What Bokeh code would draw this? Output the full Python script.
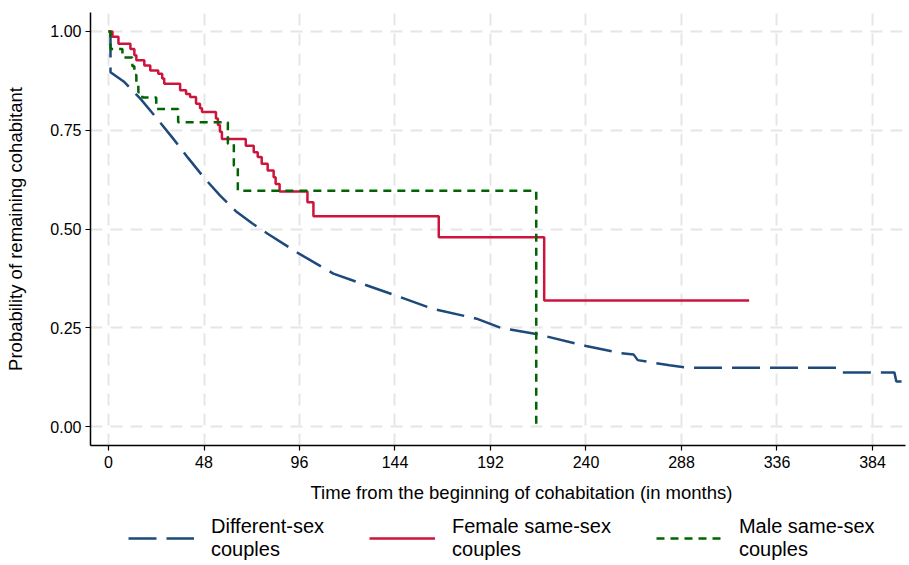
from bokeh.plotting import figure
from bokeh.layouts import column
from bokeh.models import Range1d, FixedTicker, NumeralTickFormatter, Legend, LegendItem, Title
from bokeh.embed import file_html
from bokeh.resources import INLINE

# Different-sex couples (Kaplan-Meier, many small steps -> drawn as polyline)
diff_t = [0, 1, 1, 8, 16, 24, 32, 40, 48, 56, 64, 72, 80, 96, 113, 130, 147, 163, 185,
          197, 216, 240, 257, 264, 266, 282, 291, 366, 367, 395, 396, 401]
diff_s = [1.0, 1.0, 0.897, 0.872, 0.830, 0.782, 0.732, 0.680, 0.630, 0.585, 0.545, 0.515,
          0.488, 0.437, 0.387, 0.357, 0.327, 0.298, 0.273, 0.250, 0.233, 0.204, 0.186,
          0.182, 0.168, 0.155, 0.149, 0.149, 0.137, 0.137, 0.114, 0.114]

# Female same-sex couples (step, value after time)
fem_t = [0, 2, 5, 11, 13, 14, 18, 21, 25, 27, 28, 36, 39, 41, 44, 46, 47, 54, 55, 56, 57,
         69, 73, 75, 77, 80, 83, 84, 86, 100, 103, 166, 219, 322]
fem_s = [1.0, 0.987, 0.969, 0.956, 0.940, 0.927, 0.914, 0.901, 0.893, 0.881, 0.868, 0.851,
         0.842, 0.834, 0.817, 0.806, 0.796, 0.780, 0.763, 0.746, 0.728, 0.711, 0.694, 0.682,
         0.665, 0.648, 0.631, 0.614, 0.595, 0.568, 0.532, 0.479, 0.319, 0.319]

# Male same-sex couples (step, value after time)
male_t = [0, 1, 7, 12, 13, 14, 15, 17, 24, 35, 60, 63, 65, 215]
male_s = [1.0, 0.956, 0.934, 0.912, 0.890, 0.868, 0.846, 0.833, 0.804, 0.770, 0.716, 0.660,
          0.597, 0.0]

x_ticks = [0, 48, 96, 144, 192, 240, 288, 336, 384]
y_ticks = [0.0, 0.25, 0.50, 0.75, 1.00]
legend_labels = ["Different-sex\ncouples", "Female same-sex\ncouples", "Male same-sex\ncouples"]
x_title = "Time from the beginning of cohabitation (in months)"
y_title = "Probability of remaining cohabitant"

BLUE = "#1d4a7a"
RED = "#cd143c"
GREEN = "#006400"
FONT = "Liberation Sans"
BLUE_DASH = "28 10"
GREEN_DASH = "8 6"

p = figure(frame_width=815, frame_height=433, output_backend="svg", toolbar_location=None,
           x_range=Range1d(-9.05, 400.6), y_range=Range1d(-0.0481, 1.0481),
           min_border_left=90, min_border_right=4, min_border_top=12, min_border_bottom=62)
p.outline_line_color = None
p.background_fill_color = "white"
p.border_fill_color = "white"

for g in (p.xgrid, p.ygrid):
    g.grid_line_color = "#e6e6e6"
    g.grid_line_width = 2
    g.grid_line_dash = "12 8"
p.xgrid.ticker = FixedTicker(ticks=x_ticks)
p.ygrid.ticker = FixedTicker(ticks=y_ticks)

p.xaxis.ticker = FixedTicker(ticks=x_ticks)
p.yaxis.ticker = FixedTicker(ticks=y_ticks)
p.yaxis.formatter = NumeralTickFormatter(format="0.00")
for ax in (p.xaxis, p.yaxis):
    ax.axis_line_color = "black"
    ax.axis_line_width = 1.5
    ax.major_tick_line_color = "black"
    ax.major_tick_line_width = 1.2
    ax.major_tick_in = 0
    ax.major_tick_out = 5
    ax.minor_tick_line_color = None
    ax.major_label_text_font = FONT
    ax.major_label_text_font_size = "16px"
    ax.major_label_text_color = "black"
    ax.axis_label_text_font = FONT
    ax.axis_label_text_font_size = "18.5px"
    ax.axis_label_text_font_style = "normal"
    ax.axis_label_text_color = "black"
p.yaxis.axis_label = y_title
p.xaxis.major_label_standoff = 5
p.yaxis.major_label_standoff = 4
p.yaxis.axis_label_standoff = 21

# x-axis title as a bottom title so it can sit where the reference puts it
p.add_layout(Title(text=x_title, align="left", offset=220, standoff=18,
                   text_font=FONT, text_font_size="18.5px", text_font_style="normal",
                   text_color="black"), "below")

p.line(diff_t, diff_s, line_color=BLUE, line_width=2.5, line_dash=BLUE_DASH)
p.step(fem_t, fem_s, mode="after", line_color=RED, line_width=2.5)
p.step(male_t, male_s, mode="after", line_color=GREEN, line_width=2.5, line_dash=GREEN_DASH)

# Legend panel below the chart; its sample renderers reuse the data but lie off-range
lg = figure(width=909, height=58, output_backend="svg", toolbar_location=None,
            x_axis_type=None, y_axis_type=None,
            x_range=Range1d(-2000, -1000), y_range=Range1d(0, 1),
            min_border_left=0, min_border_right=0, min_border_top=0, min_border_bottom=0)
lg.outline_line_color = None
lg.xgrid.visible = False
lg.ygrid.visible = False
s_diff = lg.line(diff_t, diff_s, line_color=BLUE, line_width=2.5, line_dash=BLUE_DASH)
s_fem = lg.line(fem_t, fem_s, line_color=RED, line_width=2.5)
s_male = lg.line(male_t, male_s, line_color=GREEN, line_width=2.5, line_dash=GREEN_DASH)

legend = Legend(items=[LegendItem(label=legend_labels[0], renderers=[s_diff]),
                       LegendItem(label=legend_labels[1], renderers=[s_fem]),
                       LegendItem(label=legend_labels[2], renderers=[s_male])],
                orientation="horizontal", location=(38, 8))
legend.border_line_color = None
legend.background_fill_alpha = 0
legend.padding = 0
legend.margin = 0
legend.spacing = 45
legend.glyph_width = 66
legend.glyph_height = 24
legend.label_standoff = 17
legend.label_text_font = FONT
legend.label_text_font_size = "20px"
legend.label_text_color = "black"
lg.add_layout(legend)

open("out.html", "w").write(file_html(column(p, lg, spacing=0), INLINE))
